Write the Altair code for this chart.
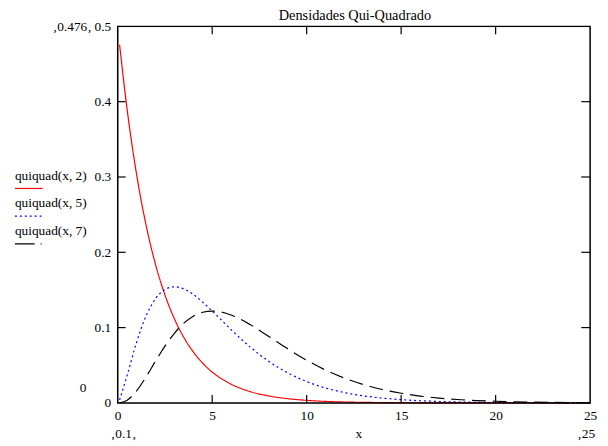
import altair as alt
import pandas as pd

# x positions sampled along the curves
xs = [0.1, 0.5, 1, 1.5, 2, 2.5, 3, 3.5, 4, 4.5, 5, 5.5, 6, 7, 8, 9, 10, 11, 12,
      13, 14, 15, 16, 17, 18, 19, 20, 22, 25]
# quiquad(x, 2)
q2 = [0.4756, 0.3894, 0.3033, 0.2362, 0.1839, 0.1433, 0.1116, 0.0869, 0.0677, 0.0527,
      0.0410, 0.0320, 0.0249, 0.0151, 0.0092, 0.0056, 0.0034, 0.0020, 0.0012,
      0.00075, 0.00046, 0.00028, 0.00017, 0.0001, 0.00006, 0.00004, 0.00002, 0.00001, 0.0]
# quiquad(x, 5)
q5 = [0.0040, 0.0366, 0.0807, 0.1154, 0.1384, 0.1506, 0.1542, 0.1513, 0.1440, 0.1338,
      0.1220, 0.1097, 0.0973, 0.0744, 0.0551, 0.0399, 0.0283, 0.0198, 0.0137,
      0.0094, 0.0064, 0.0043, 0.0029, 0.0019, 0.0013, 0.0008, 0.0005, 0.0002, 0.0001]
# quiquad(x, 7)
q7 = [0.0001, 0.0037, 0.0161, 0.0346, 0.0554, 0.0753, 0.0925, 0.1059, 0.1152, 0.1204,
      0.1220, 0.1206, 0.1168, 0.1041, 0.0882, 0.0718, 0.0567, 0.0436, 0.0329,
      0.0244, 0.0178, 0.0128, 0.0091, 0.0064, 0.0045, 0.0031, 0.0022, 0.0010, 0.0003]

series_names = ["quiquad(x, 2)", "quiquad(x, 5)", "quiquad(x, 7)"]
x_ticks = [0, 5, 10, 15, 20, 25]
y_ticks = [0, 0.1, 0.2, 0.3, 0.4, 0.5]
inner_x_ticks = [5, 10, 15, 20]
inner_y_ticks = [0.1, 0.2, 0.3, 0.4]
title_text = "Densidades Qui-Quadrado"
x_title = "x"

W, H = 478, 381
FONT = "Liberation Serif, Times New Roman, serif"
FS = 13.5

xscale = alt.Scale(domain=[0, 25], nice=False, zero=False)
yscale = alt.Scale(domain=[0, 0.5], nice=False)

rows = []
for name, vals in zip(series_names, [q2, q5, q7]):
    for xv, yv in zip(xs, vals):
        rows.append({"x": xv, "y": yv, "s": name})
df = pd.DataFrame(rows)

xaxis = alt.Axis(values=x_ticks, ticks=False, domain=False, grid=False, labelFont=FONT,
                 labelFontSize=FS, labelPadding=6, title=None, labelColor="black",
                 labelFlush=False, labelOverlap=False)
yaxis = alt.Axis(values=y_ticks, ticks=False, domain=False, grid=False, labelFont=FONT,
                 labelFontSize=FS, labelPadding=7, title=None, labelColor="black",
                 labelExpr="datum.value == 0 ? '0' : format(datum.value, '.1f')",
                 labelOverlap=False)

def curve(name, color, dash):
    return alt.Chart(df[df.s == name]).mark_line(
        color=color, strokeWidth=1.2, strokeDash=dash, interpolate="monotone"
    ).encode(
        x=alt.X("x:Q", scale=xscale, axis=xaxis),
        y=alt.Y("y:Q", scale=yscale, axis=yaxis),
    )

l2 = curve(series_names[0], "#ff0000", [1, 0])
l5 = curve(series_names[1], "#0000ff", [2, 3])
l7 = curve(series_names[2], "#000000", [14, 7])

xt = pd.DataFrame({"x": inner_x_ticks})
yt = pd.DataFrame({"y": inner_y_ticks})
tick_style = dict(color="black", strokeWidth=1.2)
bottom_ticks = alt.Chart(xt).mark_rule(**tick_style).encode(
    x=alt.X("x:Q", scale=xscale), y=alt.value(H), y2=alt.value(H - 8))
top_ticks = alt.Chart(xt).mark_rule(**tick_style).encode(
    x=alt.X("x:Q", scale=xscale), y=alt.value(0), y2=alt.value(8))
left_ticks = alt.Chart(yt).mark_rule(**tick_style).encode(
    y=alt.Y("y:Q", scale=yscale), x=alt.value(0), x2=alt.value(8))
right_ticks = alt.Chart(yt).mark_rule(**tick_style).encode(
    y=alt.Y("y:Q", scale=yscale), x=alt.value(W - 9), x2=alt.value(W))
frame = alt.Chart(pd.DataFrame({"a": [0]})).mark_rect(
    fill=None, stroke="black", strokeWidth=1.5).encode(
    x=alt.value(0), x2=alt.value(W), y=alt.value(0), y2=alt.value(H))

# legend
leg_text = alt.Chart(pd.DataFrame({"t": series_names, "yy": [151, 179, 207]})).mark_text(
    font=FONT, fontSize=FS, align="left", baseline="middle", color="black"
).encode(text="t:N", x=alt.value(-104), y=alt.Y("yy:Q", scale=None))
leg_red = alt.Chart(pd.DataFrame({"a": [0]})).mark_rule(color="#ff0000", strokeWidth=1.2).encode(
    x=alt.value(-104), x2=alt.value(-76), y=alt.value(164))
leg_blue = alt.Chart(pd.DataFrame({"a": [0]})).mark_rule(color="#0000ff", strokeWidth=1.2,
                                                         strokeDash=[2, 3]).encode(
    x=alt.value(-104), x2=alt.value(-76), y=alt.value(192))
leg_black = alt.Chart(pd.DataFrame({"a": [0]})).mark_rule(color="black", strokeWidth=1.2,
                                                          strokeDash=[20, 6]).encode(
    x=alt.value(-104), x2=alt.value(-77), y=alt.value(220))

# extra annotations
ann = pd.DataFrame({
    "t": [x_title, "\u201a0.476\u201a", "0", "\u201a0.1\u201a", "\u201a25"],
    "px": [244, -46, -35, 6, 474],
    "py": [417, 5, 370, 417, 417],
})
ann_text = alt.Chart(ann).mark_text(font=FONT, fontSize=FS, align="center",
                                    baseline="alphabetic", color="black").encode(
    text="t:N", x=alt.X("px:Q", scale=None), y=alt.Y("py:Q", scale=None))
title_mark = alt.Chart(pd.DataFrame({"t": [title_text]})).mark_text(
    font=FONT, fontSize=14.5, align="center", baseline="alphabetic", color="black"
).encode(text="t:N", x=alt.value(240), y=alt.value(-6))

chart = alt.layer(
    l2, l5, l7, frame, bottom_ticks, top_ticks, left_ticks, right_ticks,
    leg_text, leg_red, leg_blue, leg_black, ann_text, title_mark
).resolve_scale(x="shared", y="shared").properties(
    width=W, height=H,
    autosize=alt.AutoSizeParams(type="none"),
    padding={"left": 111, "top": 16, "right": 10, "bottom": 40},
).configure_view(stroke=None).configure(background="white")

chart.save("out.html", embed_options={"renderer": "svg", "actions": False})
